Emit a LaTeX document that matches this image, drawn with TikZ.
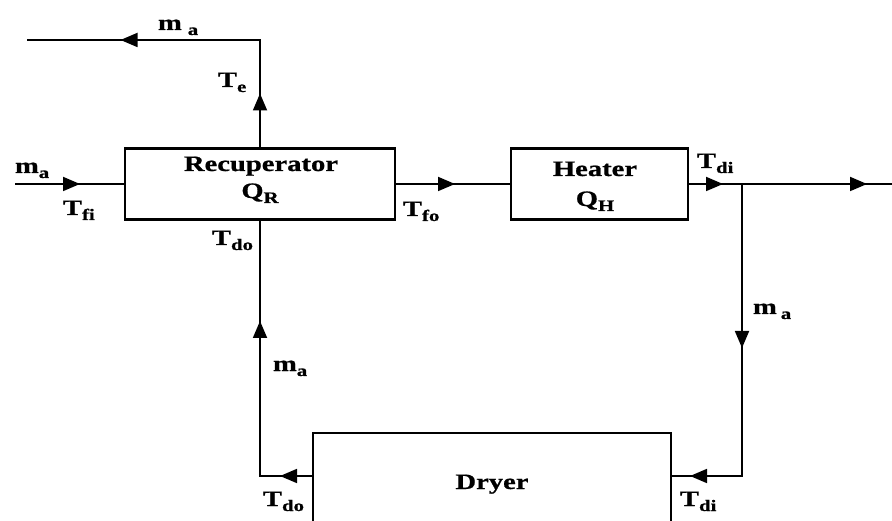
\documentclass[tikz,border=0pt]{standalone}
\usepackage{fontspec}
\setmainfont{Liberation Serif}[FakeStretch=1.30, FakeBold=0.8]
\usetikzlibrary{arrows.meta,decorations.markings}
\newcommand\lsub[1]{\raisebox{-5pt}{\fontsize{16}{16}\selectfont #1}}
\begin{document}
\begin{tikzpicture}[x=1pt,y=-1pt,
  box/.style={draw, line width=2.8pt, inner sep=0pt, outer sep=0pt},
  txt/.style={font=\fontsize{22}{26}\selectfont\bfseries, inner sep=0pt, outer sep=0pt},
  flow/.style={line width=1.8pt},
  tipat/.style={postaction={decorate, decoration={markings, mark=at position #1 with {\arrow{Triangle[length=17pt,width=14pt]}}}}}
]
\path[use as bounding box, clip] (0,0) rectangle (892,521);

% boxes
\node[box, minimum width=270pt, minimum height=71pt] (rec) at (260,184) {};
\node[box, minimum width=177pt, minimum height=71pt] (heat) at (599.5,184) {};
\node[box, minimum width=358pt, minimum height=102pt] (dryer) at (492,484) {};

% box texts
\node[txt, anchor=base] (rect1) at (261,171) {Recuperator};
\node[txt, anchor=base] (rect2) at (260,198) {Q\lsub{R}};
\node[txt, anchor=base] (heatt1) at (595,176) {Heater};
\node[txt, anchor=base] (heatt2) at (595,206) {Q\lsub{H}};
\node[txt, anchor=base] (dryt) at (492,489) {Dryer};

% free ends
\coordinate (in) at (15,184);
\coordinate (outl) at (27,40);
\coordinate (outr) at (892,184);
\coordinate (br) at (742,184);
\path (dryer.north east) ++(0,43) coordinate (dr);
\path (dryer.north west) ++(0,43) coordinate (dl);

% connectors
\draw[flow, tipat=65pt] (in) -- (rec.west);
\draw[flow, tipat=55pt, tipat=248pt] (rec.north) |- (outl);
\draw[flow, tipat=60pt] (rec.east) -- (heat.west);
\draw[flow, tipat=35pt, tipat=179pt] (heat.east) -- (outr);
\draw[flow, tipat=164pt, tipat=344pt] (br) |- (dr);
\draw[flow, tipat=33pt, tipat=208pt] (dl) -| (rec.south);

% labels
\node[txt, anchor=base west] (lma1) at (158,30) {m\hspace{6pt}\lsub{a}};
\node[txt, anchor=base west] (lte) at (218,87) {T\lsub{e}};
\node[txt, anchor=base west] (lma2) at (15,173) {m\lsub{a}};
\node[txt, anchor=base west] (ltfi) at (63,215) {T\lsub{fi}};
\node[txt, anchor=base west] (ltfo) at (403,216) {T\lsub{fo}};
\node[txt, anchor=base west] (ltdo1) at (212,245) {T\lsub{do}};
\node[txt, anchor=base west] (ltdi1) at (697,168) {T\lsub{di}};
\node[txt, anchor=base west] (lma3) at (753,314) {m\hspace{4pt}\lsub{a}};
\node[txt, anchor=base west] (lma4) at (273,371) {m\lsub{a}};
\node[txt, anchor=base west] (ltdo2) at (263,506) {T\lsub{do}};
\node[txt, anchor=base west] (ltdi2) at (680,506) {T\lsub{di}};
\end{tikzpicture}
\end{document}
